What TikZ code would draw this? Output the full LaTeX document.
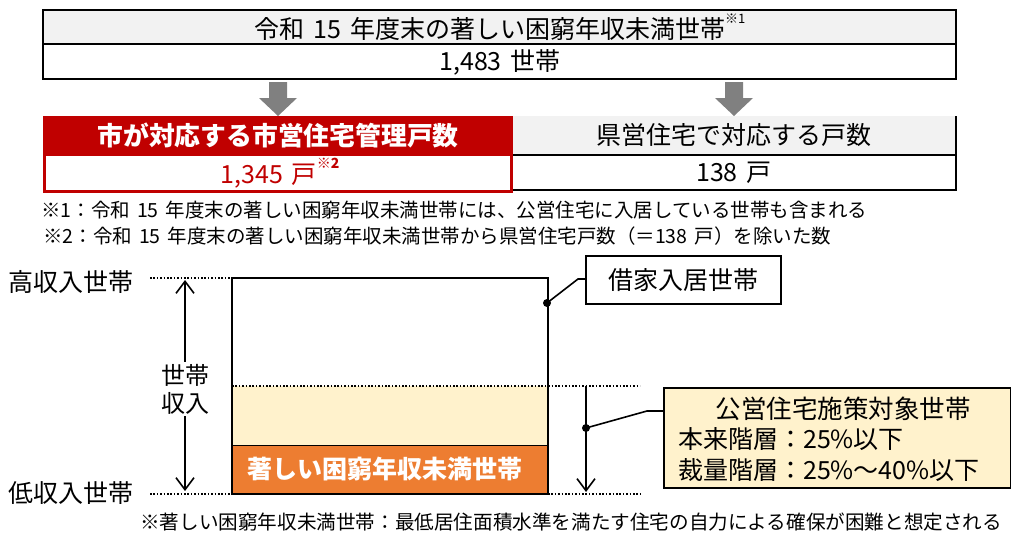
\documentclass[tikz,border=0pt]{standalone}
\usepackage{fontspec}
\setmainfont{Noto Sans CJK JP}[WordSpace=1.6]
\usetikzlibrary{arrows.meta,calc}
\definecolor{hdrgray}{HTML}{F2F2F2}
\definecolor{cityred}{HTML}{C00000}
\definecolor{cream}{HTML}{FFF2CC}
\definecolor{orng}{HTML}{ED7D31}
\definecolor{arrgray}{HTML}{808080}
\newcommand{\fs}[1]{\fontsize{#1}{#1}\selectfont}
\newcommand{\zcolon}{\char"FF1A\relax}
\newcommand{\zlp}{\char"FF08\relax}
\newcommand{\zrp}{\char"FF09\relax}
\newcommand{\zeq}{\char"FF1D\relax}
\newcommand{\zwave}{\char"FF5E\relax}
\tikzset{
  txt/.style={inner sep=0pt, font=\fs{25}},
  fn/.style={inner sep=0pt, anchor=west, font=\fs{19.5}},
  dotline/.style={line width=1.6pt, dash pattern=on 1.6pt off 1.8pt},
  solidline/.style={line width=2pt},
  barb/.style={line width=1.6pt, -{Straight Barb[length=12pt,width=18pt,line width=1.6pt]}},
  dbarb/.style={line width=1.6pt, {Straight Barb[length=12pt,width=18pt,line width=1.6pt]}-{Straight Barb[length=12pt,width=18pt,line width=1.6pt]}},
  blockarrow/.style={fill=arrgray},
  callout/.style={line width=1.6pt},
  dotmark/.style={circle, fill=black, inner sep=0pt, minimum size=8pt}
}
\begin{document}
\begin{tikzpicture}[x=1pt,y=-1pt]
\useasboundingbox (0,0) rectangle (1011,535);
% ---- top table
\fill[hdrgray] (43,10) rectangle (956,44);
\draw[line width=1.3pt] (43,10) rectangle (956,79);
\draw[line width=1.3pt] (43,44) -- (956,44);
\node[txt] (tophead) at (500,27) {令和 15 年度末の著しい困窮年収未満世帯\raisebox{0.6em}{\fs{13}※1}};
\node[txt] (topval) at (500,62) {1,483 世帯};
% ---- block arrows
\fill[blockarrow] (269,82) -- (287,82) -- (287,98) -- (297,98) -- (278,116) -- (259,98) -- (269,98) -- cycle;
\fill[blockarrow] (725,82) -- (743,82) -- (743,98) -- (753,98) -- (734,116) -- (715,98) -- (725,98) -- cycle;
% ---- right box (prefectural)
\fill[hdrgray] (513,116) rectangle (956,155);
\draw[line width=1.3pt] (513,155) -- (956,155);
\draw[line width=1.3pt] (513,190) -- (956,190);
\draw[line width=2pt] (956,116) -- (956,191);
\node[txt] (prefhead) at (734,135) {県営住宅で対応する戸数};
\node[txt] (prefval) at (734,173) {138 戸};
% ---- red box (city)
\fill[cityred] (43,116) rectangle (513,156);
\draw[cityred, line width=3pt] (44.5,117.5) rectangle (511.5,191.5);
\node[txt, text=white, font=\fs{25.8}\bfseries] (cityhead) at (278,135) {市が対応する市営住宅管理戸数};
\node[txt, text=cityred] (cityval) at (280,173) {1,345 戸\raisebox{0.6em}{\fs{14}\bfseries ※2}};
% ---- footnotes
\node[fn] (fn1) at (41,210) {※1\zcolon 令和 15 年度末の著しい困窮年収未満世帯には、公営住宅に入居している世帯も含まれる};
\node[fn] (fn2) at (43,236) {※2\zcolon 令和 15 年度末の著しい困窮年収未満世帯から県営住宅戸数\zlp\zeq 138 戸\zrp を除いた数};
% ---- lower chart
\fill[cream] (232,386) rectangle (548,445);
\fill[orng] (232,445) rectangle (548,494);
\draw[line width=1pt] (232,445) -- (548,445);
\draw[solidline] (232,494) -- (232,278) -- (548,278) -- (548,494) -- cycle;
\draw[dotline] (150,278) -- (232,278);
\draw[dotline] (150,494) -- (232,494);
\draw[dotline] (548,494) -- (640,494);
\draw[dotline] (232,386) -- (640,386);
\node[txt, anchor=west] (high) at (8,282) {高収入世帯};
\node[txt, anchor=west] (low) at (8,493) {低収入世帯};
\coordinate (atop) at (185,280);
\coordinate (abot) at (185,491);
\draw[dbarb] (atop) -- (abot);
\node[fill=white, inner sep=2pt, font=\fs{24}, align=center] (inc) at (185,389) {世帯\\[4pt]収入};
\node[txt, text=white, font=\fs{25}\bfseries] (poor) at (385,469) {著しい困窮年収未満世帯};
% ---- renters callout
\node[draw, line width=1.6pt, minimum width=195pt, minimum height=48pt, inner sep=0pt, font=\fs{25}] (rent) at (683.5,280) {借家入居世帯};
\node[dotmark] (d1) at (547,303) {};
\draw[callout] (d1.center) -- (578,279) -- (rent.west |- 0,279);
% ---- target arrow and callout
\coordinate (tstart) at (586,386);
\coordinate (tend) at (586,492);
\draw[barb] (tstart) -- (tend);
\node[draw, fill=cream, line width=2pt, minimum width=347pt, minimum height=100pt, inner sep=0pt] (pub) at (837.5,438) {};
\node[txt, font=\fs{25.5}] (pubt) at (843,409) {公営住宅施策対象世帯};
\node[txt, anchor=west, font=\fs{25}] (pub1) at (678,439) {本来階層\zcolon 25\%以下};
\node[txt, anchor=west, font=\fs{25}] (pub2) at (678,470) {裁量階層\zcolon 25\%\zwave 40\%以下};
\node[dotmark] (d2) at (586,428) {};
\draw[callout] (d2.center) -- (647,411) -- (pub.west |- 0,411);
% ---- bottom footnote
\node[fn, font=\fs{19.6}] (fn3) at (140,522) {※著しい困窮年収未満世帯\zcolon 最低居住面積水準を満たす住宅の自力による確保が困難と想定される};
\end{tikzpicture}
\end{document}
